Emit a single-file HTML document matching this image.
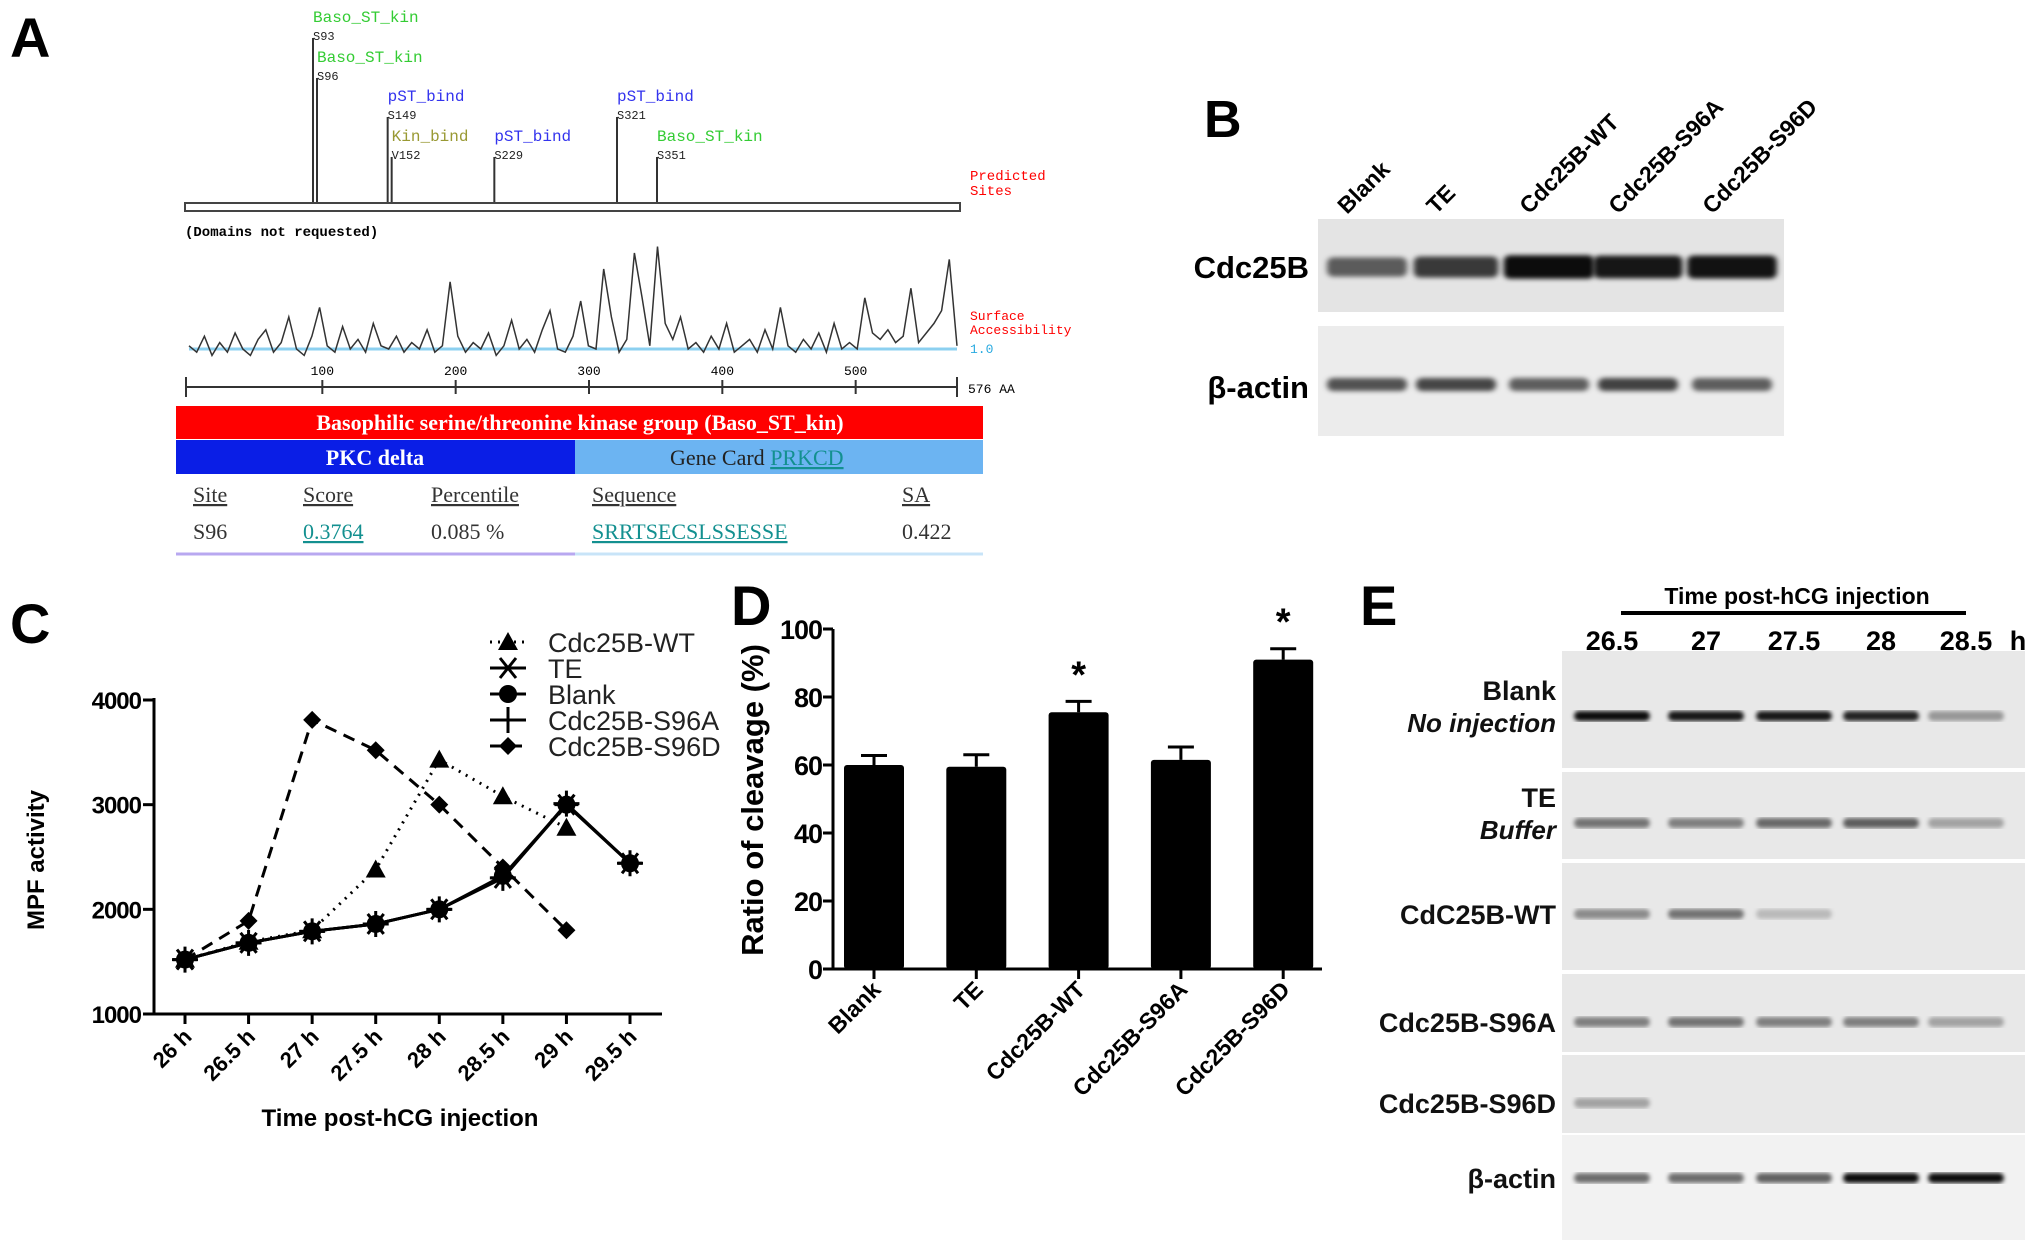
<!DOCTYPE html>
<html><head><meta charset="utf-8"><style>
html,body{margin:0;padding:0;background:#fff}
svg{display:block}
text{font-family:"Liberation Sans",Arial,sans-serif}
text.mono,.mono text{font-family:"Liberation Mono",monospace}
text.serif,.serif text{font-family:"Liberation Serif",serif}
</style></head><body>
<svg id="fig" width="2031" height="1253" viewBox="0 0 2031 1253" xmlns="http://www.w3.org/2000/svg">
<defs>
<filter id="blur" x="-20%" y="-100%" width="140%" height="300%"><feGaussianBlur stdDeviation="3 2.5"/></filter>
<filter id="blur2"><feGaussianBlur stdDeviation="2"/></filter>
</defs>
<!-- Panel A -->
<g id="panelA">
<text x="10" y="57" font-size="56" font-weight="bold">A</text>
<g id="sites"></g>
<rect x="185" y="203" width="775" height="8" fill="#fff" stroke="#444" stroke-width="2"/>
<text x="970" y="180" font-size="14" fill="#f00" class="mono">Predicted</text>
<text x="970" y="195" font-size="14" fill="#f00" class="mono">Sites</text>
<text x="185" y="236" font-size="14" font-weight="bold" class="mono">(Domains not requested)</text>
<line x1="189" y1="349" x2="957" y2="349" stroke="#8cd0f0" stroke-width="3"/>
<polyline id="saLine" fill="none" stroke="#333" stroke-width="1.5"/>
<text x="970" y="320" font-size="13" fill="#f00" class="mono">Surface</text>
<text x="970" y="334" font-size="13" fill="#f00" class="mono">Accessibility</text>
<text x="970" y="353" font-size="13" fill="#29aae0" class="mono">1.0</text>
<g id="aaAxis"></g>
<rect x="176" y="406" width="807" height="33" fill="#f00"/>
<text x="580" y="430" font-size="22" font-weight="bold" fill="#fff" text-anchor="middle" class="serif">Basophilic serine/threonine kinase group (Baso_ST_kin)</text>
<rect x="176" y="440" width="399" height="34" fill="#0a1ee6"/>
<rect x="575" y="440" width="408" height="34" fill="#6cb4f2"/>
<text x="375" y="465" font-size="22" font-weight="bold" fill="#fff" text-anchor="middle" class="serif">PKC delta</text>
<text x="670" y="465" font-size="22" fill="#222" class="serif">Gene Card <tspan fill="#139090" text-decoration="underline">PRKCD</tspan></text>
<g class="serif" font-size="22" fill="#333">
<text x="193" y="502" text-decoration="underline">Site</text>
<text x="303" y="502" text-decoration="underline">Score</text>
<text x="431" y="502" text-decoration="underline">Percentile</text>
<text x="592" y="502" text-decoration="underline">Sequence</text>
<text x="902" y="502" text-decoration="underline">SA</text>
<text x="193" y="539">S96</text>
<text x="303" y="539" fill="#139090" text-decoration="underline">0.3764</text>
<text x="431" y="539">0.085 %</text>
<text x="592" y="539" fill="#139090" text-decoration="underline">SRRTSECSLSSESSE</text>
<text x="902" y="539">0.422</text>
</g>
<line x1="176" y1="554" x2="575" y2="554" stroke="#b8a8f0" stroke-width="3"/>
<line x1="575" y1="554" x2="983" y2="554" stroke="#c8e4f8" stroke-width="3"/>
</g>

<!-- Panel B -->
<g id="panelB">
<text x="1204" y="137" font-size="52" font-weight="bold">B</text>
<rect x="1318" y="219" width="466" height="93" fill="#e4e4e4"/>
<rect x="1318" y="326" width="466" height="110" fill="#ececec"/>
<text x="1309" y="278" font-size="31" font-weight="bold" text-anchor="end">Cdc25B</text>
<text x="1309" y="398" font-size="31" font-weight="bold" text-anchor="end">β-actin</text>
<g id="blotB"></g>
</g>

<!-- Panel C -->
<g id="panelC">
<text x="10" y="643" font-size="56" font-weight="bold">C</text>
<g id="chartC"></g>
</g>

<!-- Panel D -->
<g id="panelD">
<text x="731" y="625" font-size="56" font-weight="bold">D</text>
<g id="chartD"></g>
</g>

<!-- Panel E -->
<g id="panelE">
<text x="1360" y="625" font-size="56" font-weight="bold">E</text>
<text x="1797" y="604" font-size="23" font-weight="bold" text-anchor="middle">Time post-hCG injection</text>
<line x1="1621" y1="613" x2="1966" y2="613" stroke="#000" stroke-width="4"/>
<g id="blotE"></g>
</g>
</svg>
<script>
const NS='http://www.w3.org/2000/svg';
function mk(tag,attrs,parent){const e=document.createElementNS(NS,tag);for(const k in attrs)e.setAttribute(k,attrs[k]);(parent||document.getElementById('fig')).appendChild(e);return e;}
function txt(s,attrs,parent){const e=mk('text',attrs,parent);e.textContent=s;return e;}

// ===== Panel A data =====
const siteNames=['S93','S96','S149','V152','S229','S321','S351'];
const sitePos=[93,96,149,152,229,321,351];
const siteTypes=['Baso_ST_kin','Baso_ST_kin','pST_bind','Kin_bind','pST_bind','pST_bind','Baso_ST_kin'];
const siteLevel=[0,1,2,3,3,2,3];
const saValues=[1.1,0.9,1.4,0.8,1.2,0.9,1.5,1.0,0.8,1.3,1.6,0.9,1.2,2.0,1.0,0.8,1.4,2.3,1.1,0.9,1.7,1.0,1.3,0.9,1.8,1.1,1.0,1.4,0.9,1.2,1.0,1.6,0.9,1.1,3.1,1.4,0.9,1.2,1.0,1.5,0.8,1.1,1.9,1.0,1.3,0.9,1.6,2.2,1.0,0.9,1.4,2.5,1.1,1.0,3.5,2.0,0.9,1.3,4.0,2.6,1.1,4.2,1.8,1.3,2.0,1.0,1.2,0.9,1.4,1.0,1.8,0.9,1.1,1.3,0.9,1.6,1.0,2.3,1.1,0.9,1.3,1.0,1.5,0.9,1.8,1.0,1.2,1.0,2.6,1.5,1.3,1.6,1.2,1.4,2.9,1.2,1.5,1.8,2.2,3.8,1.1];
const aaTicks=[100,200,300,400,500];
const aaLen=576;
const ax0=189, ax1=957;
function xAA(a){return ax0+(a/aaLen)*(ax1-ax0);}
function ySA(v){return 349-(v-1)*32;}
const siteG=document.getElementById('sites');
const typeColor={'Baso_ST_kin':'#33cc33','pST_bind':'#3333ee','Kin_bind':'#999933'};
const levelTop=[38,78,117,157];
siteNames.forEach((n,i)=>{
  const x=xAA(sitePos[i]);const top=levelTop[siteLevel[i]];
  const l=mk('line',{x1:x,y1:top,x2:x,y2:203,stroke:'#333','stroke-width':2},siteG);
  
  
  const t1=txt(siteTypes[i],{x:x,y:top-16,'font-size':16,fill:typeColor[siteTypes[i]],class:'mono'},siteG);
  
  
  const t2=txt(n,{x:x,y:top+2,'font-size':12,fill:'#222',class:'mono'},siteG);
  
  
});
document.getElementById('saLine').setAttribute('points',saValues.map((v,i)=>xAA(i*aaLen/(saValues.length-1)).toFixed(1)+','+ySA(v).toFixed(1)).join(' '));
const axG=document.getElementById('aaAxis');
mk('line',{x1:ax0-3,y1:387,x2:ax1,y2:387,stroke:'#333','stroke-width':2},axG);
mk('line',{x1:ax0-3,y1:377,x2:ax0-3,y2:397,stroke:'#333','stroke-width':2},axG);
mk('line',{x1:ax1,y1:377,x2:ax1,y2:397,stroke:'#333','stroke-width':2},axG);
aaTicks.forEach(t=>{const x=xAA(t);mk('line',{x1:x,y1:380,x2:x,y2:394,stroke:'#333','stroke-width':2},axG);
  const e=txt(String(t),{x:x,y:375,'font-size':13,'text-anchor':'middle',class:'mono'},axG);
  
  });
txt('576 AA',{x:968,y:393,'font-size':13,class:'mono'},axG);

// ===== Panel B =====
const bLanes=['Blank','TE','Cdc25B-WT','Cdc25B-S96A','Cdc25B-S96D'];
const bCdcIntensity=[0.6,0.75,0.95,0.9,0.92];
const bActinIntensity=[0.65,0.7,0.6,0.72,0.6];
const bG=document.getElementById('blotB');
const bX=[1367,1456,1549,1638,1732];
bLanes.forEach((n,i)=>{
  const lab=txt(n,{x:bX[i]-20,y:215,'font-size':23,'font-weight':'bold',transform:`rotate(-45 ${bX[i]-20} 215)`},bG);
  
  
  const w=62+bCdcIntensity[i]*30;
  const b1=mk('rect',{x:bX[i]-w/2,y:267-6-bCdcIntensity[i]*6,width:w,height:12+bCdcIntensity[i]*12,rx:6,fill:'#000','fill-opacity':bCdcIntensity[i],filter:'url(#blur)'},bG);
  
  
  const b2=mk('rect',{x:bX[i]-40,y:378,width:80,height:13,rx:6,fill:'#000','fill-opacity':bActinIntensity[i],filter:'url(#blur)'},bG);
  
  
});

// ===== Panel C: line chart =====
const cTimes=['26 h','26.5 h','27 h','27.5 h','28 h','28.5 h','29 h','29.5 h'];
const cYTicks=[1000,2000,3000,4000];
const seriesWT=[1520,1690,1800,2380,3430,3080,2780];
const seriesTE=[1520,1680,1790,1860,2000,2300,3000,2440];
const seriesBlank=[1520,1680,1790,1860,2000,2320,3000,2440];
const seriesS96A=[1520,1680,1790,1860,2000,2300,3010,2440];
const seriesS96D=[1520,1890,3810,3520,3000,2400,1800];
const cG=document.getElementById('chartC');
const cx0=185, cdx=(630-185)/7;
function xC(i){return cx0+i*cdx;}
function yC(v){return 1014-(v-1000)/3000*(1014-700);}
let e;
e=mk('line',{x1:154,y1:yC(4000)-2,x2:154,y2:1014,stroke:'#000','stroke-width':3},cG);

e=mk('line',{x1:154,y1:1014,x2:662,y2:1014,stroke:'#000','stroke-width':3},cG);

cYTicks.forEach(t=>{mk('line',{x1:143,y1:yC(t),x2:154,y2:yC(t),stroke:'#000','stroke-width':3},cG);
  const l=txt(String(t),{x:141,y:yC(t)+9,'font-size':24,'font-weight':'bold','text-anchor':'end','letter-spacing':'-1'},cG);
  });
cTimes.forEach((t,i)=>{const x=xC(i);mk('line',{x1:x,y1:1014,x2:x,y2:1024,stroke:'#000','stroke-width':3},cG);
  const l=txt(t,{x:x+8,y:1038,'font-size':22,'font-weight':'bold','text-anchor':'end',transform:`rotate(-45 ${x+8} 1038)`},cG);
  });
e=txt('MPF activity',{x:44,y:860,'font-size':24,'font-weight':'bold','text-anchor':'middle',transform:'rotate(-90 44 860)'},cG);

e=txt('Time post-hCG injection',{x:400,y:1126,'font-size':24,'font-weight':'bold','text-anchor':'middle'},cG);

function marker(type,x,y,g){
  if(type==='tri') return mk('path',{d:`M${x},${y-10} L${x+10},${y+8} L${x-10},${y+8} Z`,fill:'#000'},g);
  if(type==='dia') return mk('path',{d:`M${x},${y-9} L${x+9},${y} L${x},${y+9} L${x-9},${y} Z`,fill:'#000'},g);
  if(type==='circ') return mk('circle',{cx:x,cy:y,r:9,fill:'#000'},g);
  if(type==='star') return mk('path',{d:`M${x-12},${y} H${x+12} M${x-8},${y-10} L${x+8},${y+10} M${x+8},${y-10} L${x-8},${y+10}`,stroke:'#000','stroke-width':3,fill:'none'},g);
  if(type==='plus') return mk('path',{d:`M${x-13},${y} H${x+13} M${x},${y-13} V${y+13}`,stroke:'#000','stroke-width':3,fill:'none'},g);
}
const seriesDefs=[
 {name:'Cdc25B-WT',vals:seriesWT,dash:'2,6',m:'tri'},
 {name:'TE',vals:seriesTE,dash:'',m:'star'},
 {name:'Blank',vals:seriesBlank,dash:'',m:'circ'},
 {name:'Cdc25B-S96A',vals:seriesS96A,dash:'',m:'plus'},
 {name:'Cdc25B-S96D',vals:seriesS96D,dash:'12,8',m:'dia'}];
seriesDefs.forEach(s=>{
  const g=mk('g',{},cG);
  
  
  const p=mk('polyline',{points:s.vals.map((v,i)=>xC(i)+','+yC(v)).join(' '),fill:'none',stroke:'#000','stroke-width':3,'stroke-dasharray':s.dash},g);
  
  
  s.vals.forEach((v,i)=>{const m=marker(s.m,xC(i),yC(v),g);
    
    });
});
const legY=[642,668,694,720,746];
seriesDefs.forEach((s,i)=>{
  const g=mk('g',{},cG);
  
  
  mk('line',{x1:490,y1:legY[i],x2:526,y2:legY[i],stroke:'#000','stroke-width':3,'stroke-dasharray':s.dash},g);
  marker(s.m,508,legY[i],g);
  txt(s.name,{x:548,y:legY[i]+10,'font-size':27,fill:'#222'},g);
});

// ===== Panel D: bar chart =====
const dCats=['Blank','TE','Cdc25B-WT','Cdc25B-S96A','Cdc25B-S96D'];
const dVals=[60,59.5,75.5,61.5,91];
const dErr=[2.8,3.5,3.2,3.8,3.2];
const dSig=[false,false,true,false,true];
const dYTicks=[0,20,40,60,80,100];
const dG=document.getElementById('chartD');
const dAxX=833, dBase=969, dTop=629;
function yD(v){return dBase-v/100*(dBase-dTop);}
const dX0=874, dStep=102.3;
function xD(i){return dX0+i*dStep;}
e=mk('line',{x1:dAxX,y1:yD(100),x2:dAxX,y2:dBase,stroke:'#000','stroke-width':3},dG);

e=mk('line',{x1:dAxX,y1:dBase,x2:1322,y2:dBase,stroke:'#000','stroke-width':3},dG);

dYTicks.forEach(t=>{mk('line',{x1:dAxX-10,y1:yD(t),x2:dAxX,y2:yD(t),stroke:'#000','stroke-width':3},dG);
  const l=txt(String(t),{x:dAxX-11,y:yD(t)+10,'font-size':27,'font-weight':'bold','text-anchor':'end','letter-spacing':'-1'},dG);
  });
e=txt('Ratio of cleavage (%)',{x:763,y:800,'font-size':31,'font-weight':'bold','text-anchor':'middle',transform:'rotate(-90 763 800)'},dG);

dCats.forEach((c,i)=>{
  const x=xD(i);
  const err=mk('path',{d:`M${x},${yD(dVals[i])} V${yD(dVals[i]+dErr[i])} M${x-13},${yD(dVals[i]+dErr[i])} H${x+13}`,stroke:'#000','stroke-width':3,fill:'none'},dG);
  
  
  const b=mk('rect',{x:x-30,y:yD(dVals[i]),width:60,height:dBase-yD(dVals[i]),rx:3,fill:'#000'},dG);
  
  
  mk('line',{x1:x,y1:dBase,x2:x,y2:dBase+10,stroke:'#000','stroke-width':3},dG);
  const l=txt(c,{x:x+8,y:dBase+22,'font-size':23,'font-weight':'bold','text-anchor':'end',transform:`rotate(-45 ${x+8} ${dBase+22})`},dG);
  
  if(dSig[i]){const s=txt('*',{x:x,y:yD(dVals[i]+dErr[i])-14,'font-size':38,'font-weight':'bold','text-anchor':'middle'},dG);
    }
});

// ===== Panel E: blots =====
const eTimes=['26.5','27','27.5','28','28.5'];
const eRowNames=['Blank','TE','CdC25B-WT','Cdc25B-S96A','Cdc25B-S96D','β-actin'];
const eRowSub=['No injection','Buffer','','','',''];
const eBlank=[0.95,0.9,0.9,0.85,0.35];
const eTE=[0.5,0.45,0.55,0.6,0.3];
const eWT=[0.4,0.5,0.2,0,0];
const eS96A=[0.45,0.5,0.45,0.45,0.3];
const eS96D=[0.3,0,0,0,0];
const eActin=[0.55,0.55,0.6,0.95,0.95];
const eRows=[eBlank,eTE,eWT,eS96A,eS96D,eActin];
const eRowTop=[651,772,863,974,1055,1135];
const eRowBot=[768,859,970,1052,1133,1240];
const eBand=[716,823,914,1022,1103,1178];
const eLX=[1612,1706,1794,1881,1966];
const eG=document.getElementById('blotE');
eTimes.forEach((t,i)=>{const l=txt(t,{x:eLX[i],y:650,'font-size':27,'font-weight':'bold','text-anchor':'middle'},eG);
  });
txt('h',{x:2018,y:650,'font-size':27,'font-weight':'bold','text-anchor':'middle'},eG);
eRows.forEach((row,r)=>{
  const bg=mk('rect',{x:1562,y:eRowTop[r],width:463,height:eRowBot[r]-eRowTop[r],fill:r===5?'#f2f2f2':'#e8e8e8'},eG);
  
  
  const lab=txt(eRowNames[r],{x:1556,y:(eRowSub[r]?eBand[r]-16:eBand[r]+10),'font-size':27,'font-weight':'bold','text-anchor':'end',fill:'#111'},eG);
  
  
  if(eRowSub[r]){const s=txt(eRowSub[r],{x:1556,y:eBand[r]+16,'font-size':26,'font-style':'italic','font-weight':'bold','text-anchor':'end',fill:'#111'},eG);
    }
  row.forEach((v,i)=>{ if(v<=0) return;
    const b=mk('rect',{x:eLX[i]-38,y:eBand[r]-5,width:76,height:10,rx:5,fill:'#000','fill-opacity':v,filter:'url(#blur2)'},eG);
    
    });
});
</script>
</body></html>
